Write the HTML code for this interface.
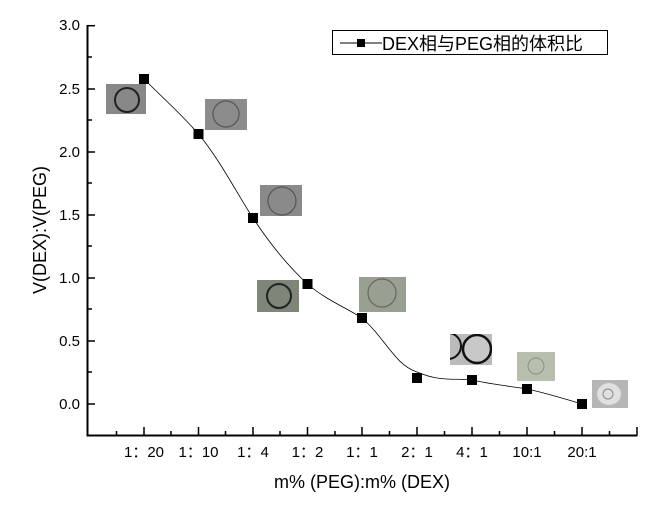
<!DOCTYPE html>
<html><head><meta charset="utf-8"><style>
body{margin:0;background:#fff;}
svg text{font-family:"Liberation Sans","Noto Sans CJK SC",sans-serif;fill:#000;}
</style></head><body>
<svg width="668" height="500" viewBox="0 0 668 500" xmlns="http://www.w3.org/2000/svg">
<defs>
<clipPath id="c6"><rect x="450" y="334" width="42" height="31"/></clipPath>
</defs>
<g>
<rect x="106" y="84" width="40" height="30" fill="#888"/><circle cx="127" cy="100" r="12" fill="none" stroke="#222" stroke-width="2"/>
<rect x="205" y="99" width="42" height="31" fill="#8c8c8c"/><circle cx="226" cy="114" r="13" fill="none" stroke="#555" stroke-width="1.2"/>
<rect x="260" y="185" width="42" height="31" fill="#8a8a8a"/><circle cx="282" cy="201" r="14" fill="none" stroke="#555" stroke-width="1.2"/>
<rect x="257" y="280" width="42" height="32" fill="#7e867a"/><circle cx="279" cy="296" r="12" fill="none" stroke="#222" stroke-width="2"/>
<rect x="359" y="277" width="47" height="35" fill="#99a091"/><circle cx="382" cy="293" r="14" fill="none" stroke="#666" stroke-width="1.2"/>
<g clip-path="url(#c6)"><rect x="450" y="334" width="42" height="31" fill="#bbb"/><circle cx="477" cy="349" r="14" fill="#c8c8c8" stroke="#111" stroke-width="2.5"/><circle cx="448" cy="346" r="13" fill="none" stroke="#111" stroke-width="2"/></g>
<rect x="517" y="352" width="38" height="29" fill="#b8bfaf"/><circle cx="536" cy="366" r="8" fill="none" stroke="#8a9080" stroke-width="1"/>
<rect x="592" y="380" width="36" height="28" fill="#b6b6b6"/><ellipse cx="609" cy="394" rx="12" ry="11" fill="#e0e0e0"/><circle cx="608" cy="394" r="5" fill="none" stroke="#888" stroke-width="1"/>
</g>
<path d="M87.5 25 V435.5 H637.5" fill="none" stroke="#000" stroke-width="2"/>
<g stroke="#000" stroke-width="1.5">
<line x1="87" y1="25.7" x2="95" y2="25.7"/><line x1="87" y1="57" x2="92" y2="57"/>
<line x1="87" y1="89" x2="95" y2="89"/><line x1="87" y1="120" x2="92" y2="120"/>
<line x1="87" y1="152" x2="95" y2="152"/><line x1="87" y1="183" x2="92" y2="183"/>
<line x1="87" y1="215" x2="95" y2="215"/><line x1="87" y1="246" x2="92" y2="246"/>
<line x1="87" y1="278" x2="95" y2="278"/><line x1="87" y1="309" x2="92" y2="309"/>
<line x1="87" y1="341" x2="95" y2="341"/><line x1="87" y1="372" x2="92" y2="372"/>
<line x1="87" y1="404" x2="95" y2="404"/>
<line x1="144" y1="435" x2="144" y2="427"/><line x1="198.5" y1="435" x2="198.5" y2="427"/><line x1="253" y1="435" x2="253" y2="427"/><line x1="307.5" y1="435" x2="307.5" y2="427"/><line x1="362" y1="435" x2="362" y2="427"/><line x1="417" y1="435" x2="417" y2="427"/><line x1="472" y1="435" x2="472" y2="427"/><line x1="527" y1="435" x2="527" y2="427"/><line x1="582" y1="435" x2="582" y2="427"/><line x1="637" y1="435" x2="637" y2="427"/>
<line x1="116.5" y1="435" x2="116.5" y2="431"/><line x1="171" y1="435" x2="171" y2="431"/><line x1="225.5" y1="435" x2="225.5" y2="431"/><line x1="280" y1="435" x2="280" y2="431"/><line x1="335" y1="435" x2="335" y2="431"/><line x1="389.5" y1="435" x2="389.5" y2="431"/><line x1="444.5" y1="435" x2="444.5" y2="431"/><line x1="499.5" y1="435" x2="499.5" y2="431"/><line x1="554.5" y1="435" x2="554.5" y2="431"/><line x1="609.5" y1="435" x2="609.5" y2="431"/>
</g>
<g font-size="15" text-anchor="end">
<text x="80" y="30">3.0</text><text x="80" y="94">2.5</text><text x="80" y="157">2.0</text><text x="80" y="220">1.5</text><text x="80" y="283">1.0</text><text x="80" y="346">0.5</text><text x="80" y="409">0.0</text>
</g>
<g font-size="15" text-anchor="middle">
<text x="144" y="457">1：20</text><text x="198.5" y="457">1：10</text><text x="253" y="457">1：4</text><text x="307.5" y="457">1：2</text><text x="362" y="457">1：1</text><text x="417" y="457">2：1</text><text x="472" y="457">4：1</text><text x="527" y="457">10:1</text><text x="582" y="457">20:1</text>
</g>
<text x="362" y="488" font-size="18" text-anchor="middle">m% (PEG):m% (DEX)</text>
<text transform="translate(46,230) rotate(-90)" font-size="18" text-anchor="middle">V(DEX):V(PEG)</text>
<path d="M144 79 C165 100 182 115 198.5 134 C220 160 236 192 253 218 C270 244 288 266 307.5 284 C326 300 345 307 362 318 C385 338 395 365 417 372 C440 382 455 378 472 380 C490 384 508 386 527 389 C546 393 565 399 582 404" fill="none" stroke="#000" stroke-width="0.8"/>
<g fill="#000">
<rect x="139" y="74" width="10" height="10"/><rect x="193.5" y="129" width="10" height="10"/><rect x="248" y="213" width="10" height="10"/><rect x="302.5" y="279" width="10" height="10"/><rect x="357" y="313" width="10" height="10"/><rect x="412" y="373" width="10" height="10"/><rect x="467" y="375" width="10" height="10"/><rect x="522" y="384" width="10" height="10"/><rect x="577" y="399" width="10" height="10"/>
</g>
<rect x="332.5" y="30.5" width="275" height="24" fill="#fff" stroke="#000" stroke-width="1"/>
<line x1="340" y1="43" x2="382" y2="43" stroke="#000" stroke-width="1"/>
<rect x="357" y="39" width="8" height="8" fill="#000"/>
<text x="382" y="50" font-size="18">DEX相与PEG相的体积比</text>
</svg>
</body></html>
